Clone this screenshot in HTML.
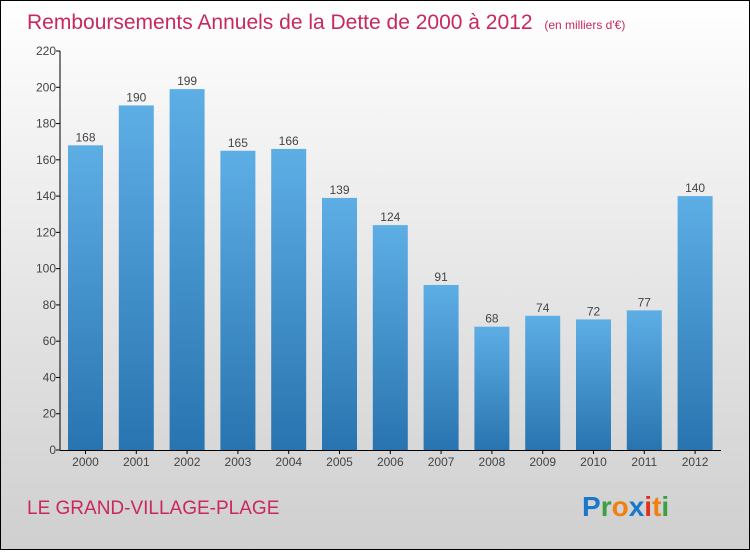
<!DOCTYPE html>
<html><head><meta charset="utf-8"><style>
body{margin:0;width:750px;height:550px;overflow:hidden;font-family:"Liberation Sans",sans-serif}
#wrap{position:absolute;left:0;top:0;width:748px;height:548px;border:1px solid #000;background:linear-gradient(#ffffff,#f0f0f0 30%,#cfcfcf)}
</style></head><body>
<div id="wrap">
<svg width="748" height="548" viewBox="1 1 748 548" xmlns="http://www.w3.org/2000/svg" id="svg">
<defs><linearGradient id="bg" x1="0" y1="0" x2="0" y2="1"><stop offset="0" stop-color="#5eaee6"/><stop offset="1" stop-color="#2874b0"/></linearGradient></defs>
<text x="27" y="29" font-size="21" fill="#c8285e">Remboursements Annuels de la Dette de 2000 à 2012 <tspan font-size="12" dx="6">(en milliers d'€)</tspan></text>
<text x="27" y="514" font-size="19" fill="#c8285e">LE GRAND-VILLAGE-PLAGE</text>
<g font-size="28" font-weight="bold" font-family="'Liberation Sans',sans-serif">
<text x="582" y="516"><tspan fill="#1a78c8">P</tspan><tspan fill="#3aa040">r</tspan><tspan fill="#f08010">o</tspan><tspan fill="#1a78c8">x</tspan><tspan fill="#e03020">i</tspan><tspan fill="#f08010">t</tspan><tspan fill="#3aa040">i</tspan></text></g>
<g id="axes"></g><g id="bars"></g>
</svg></div>
<script>
const years=["2000","2001","2002","2003","2004","2005","2006","2007","2008","2009","2010","2011","2012"];
const values=[168,190,199,165,166,139,124,91,68,74,72,77,140];
const yTicks=[0,20,40,60,80,100,120,140,160,180,200,220];
const NS="http://www.w3.org/2000/svg";
const y0=450,yTop=51,yMax=220,x0=60,step=50.8,bw=35;
const Y=v=>y0-(v/yMax)*(y0-yTop);
const X=i=>85.5+i*step;
function mk(t,a,p){const e=document.createElementNS(NS,t);for(const k in a)e.setAttribute(k,a[k]);p.appendChild(e);return e;}
const ax=document.getElementById('axes'),bs=document.getElementById('bars');
let l=mk('line',{x1:x0,y1:yTop,x2:x0,y2:y0,stroke:'#000','stroke-width':1},ax);


l=mk('line',{x1:x0,y1:y0+0.5,x2:721,y2:y0+0.5,stroke:'#000','stroke-width':1},ax);


yTicks.forEach(v=>{
 const y=Y(v);
 mk('line',{x1:x0-4,y1:y,x2:x0,y2:y,stroke:'#000'},ax);
 const t=mk('text',{x:x0-4,y:y+4,'text-anchor':'end','font-size':12,fill:'#444'},ax);
 t.textContent=v;
 
 
});
years.forEach((yr,i)=>{
 const cx=X(i),v=values[i];
 const r=mk('rect',{x:cx-bw/2,y:Y(v),width:bw,height:y0-Y(v),fill:'url(#bg)'},bs);
 
 
 const t=mk('text',{x:cx,y:Y(v)-4,'text-anchor':'middle','font-size':12,fill:'#444'},bs);
 t.textContent=v;
 
 
 mk('line',{x1:cx,y1:y0,x2:cx,y2:y0+4,stroke:'#000'},ax);
 const xl=mk('text',{x:cx,y:y0+16,'text-anchor':'middle','font-size':12,fill:'#444'},ax);
 xl.textContent=yr;
 
 
});
</script>
</body></html>
